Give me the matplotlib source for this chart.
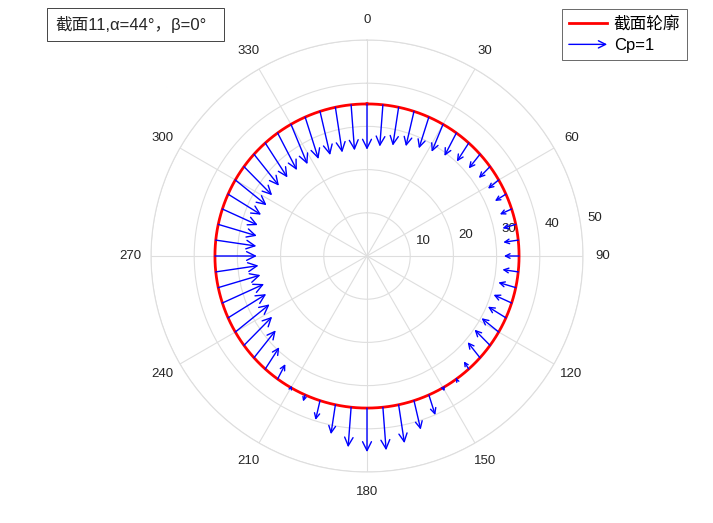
import numpy as np
import matplotlib
matplotlib.use('Agg')
import matplotlib.pyplot as plt
from matplotlib.patches import FancyArrowPatch, Rectangle
from matplotlib.legend_handler import HandlerBase
from matplotlib.transforms import ScaledTranslation

plt.rcParams['font.family'] = ['Liberation Sans', 'Noto Sans CJK SC']

# stations around the section (deg, clockwise from top)
angle_deg = list(range(0, 360, 6))
# pressure coefficient at each station (+ = pushes inward, - = suction outward)
cp = [1.06, 0.97, 0.90, 0.83, 0.76, 0.69, 0.60, 0.51, 0.42, 0.37,
      0.32, 0.30, 0.30, 0.32, 0.35, 0.35, 0.37, 0.42, 0.46, 0.49,
      0.51, 0.51, 0.46, 0.21, 0.02, -0.09, -0.49, -0.69, -0.90, -1.00,
      -1.02, -0.93, -0.69, -0.46, -0.16, 0.05, 0.39, 0.60, 0.81, 0.93,
      1.02, 1.04, 1.06, 1.02, 1.00, 0.97, 0.95, 0.93, 0.90, 0.90,
      0.93, 0.93, 0.93, 0.95, 0.97, 1.00, 1.02, 1.04, 1.06, 1.06]
section_r = 35.2
r_ticks = [10, 20, 30, 40, 50]
theta_ticks = list(range(0, 360, 30))
title_text = '截面11,α=44°，β=0°'

cp_scale = 10.0    # radial units per Cp=1
tilt = 1.4         # arrows lean toward vertical a bit


class HandlerArrow(HandlerBase):
    def create_artists(self, legend, orig_handle, xdescent, ydescent,
                       width, height, fontsize, trans):
        y = height / 2 - ydescent
        p = FancyArrowPatch((-xdescent, y), (-xdescent + width, y),
                            arrowstyle='->', mutation_scale=13, color='blue',
                            lw=1.0, shrinkA=0, shrinkB=0)
        p.set_transform(trans)
        return [p]


fig = plt.figure(figsize=(7.13, 5.23), dpi=100)
ax = fig.add_axes([151 / 713, 51 / 523, 432 / 713, 432 / 523], projection='polar')
ax.set_theta_zero_location('N')
ax.set_theta_direction(-1)
ax.set_ylim(0, 50)
ax.set_rticks(r_ticks)
ax.set_yticklabels([])
ax.set_thetagrids(theta_ticks, labels=[str(t) for t in theta_ticks])
ax.grid(color='#dedede', lw=0.8)
ax.spines['polar'].set_color('#dedede')
ax.spines['polar'].set_linewidth(0.8)
ax.tick_params(axis='x', pad=4, labelsize=9.5, labelcolor='#262626')

# radial labels near the 80 deg ray, nudged off the rings
off = ax.transData + ScaledTranslation(0.135, 0.093, fig.dpi_scale_trans)
for r in r_ticks:
    ax.text(np.deg2rad(82.3), r, str(r), transform=off, ha='center', va='center',
            fontsize=9.5, color='#262626', zorder=3)

th = np.linspace(0, 2 * np.pi, 361)
line, = ax.plot(th, np.full_like(th, section_r), color='red', lw=2, zorder=4)

for a, c in zip(angle_deg, cp):
    t = np.deg2rad(a)
    x0, y0 = section_r * np.sin(t), section_r * np.cos(t)
    ux, uy = np.sin(t), tilt * np.cos(t)
    n = np.hypot(ux, uy)
    L = c * cp_scale
    x1, y1 = x0 - L * ux / n, y0 - L * uy / n
    r1 = np.hypot(x1, y1)
    t1 = np.arctan2(x1, y1)
    ms = min(16.0, 4 + abs(c) * 12)
    ax.annotate('', xy=(t1, r1), xytext=(t, section_r),
                arrowprops=dict(arrowstyle='->', color='blue', lw=1.0,
                                shrinkA=0, shrinkB=0, mutation_scale=ms),
                zorder=5)

arrow_proxy = FancyArrowPatch((0, 0), (1, 0), arrowstyle='->', color='blue')
leg = ax.legend([line, arrow_proxy], ['截面轮廓', 'Cp=1'],
                handler_map={FancyArrowPatch: HandlerArrow()},
                loc='upper right', bbox_to_anchor=(687 / 713, 1 - 9 / 523),
                bbox_transform=fig.transFigure, fontsize=12, fancybox=False,
                handlelength=2.3, borderpad=0.4, labelspacing=0.4,
                handletextpad=0.4, borderaxespad=0)
leg.get_frame().set_edgecolor('#262626')
leg.get_frame().set_linewidth(0.6)

fig.add_artist(Rectangle((47 / 713, 1 - 41 / 523), 177 / 713, 33 / 523,
                         transform=fig.transFigure, fill=False,
                         ec='#262626', lw=0.6))
fig.text(55 / 713, 1 - 24.5 / 523, title_text, ha='left', va='center',
         fontsize=12, color='#262626')

fig.savefig('out.png', dpi=100)
